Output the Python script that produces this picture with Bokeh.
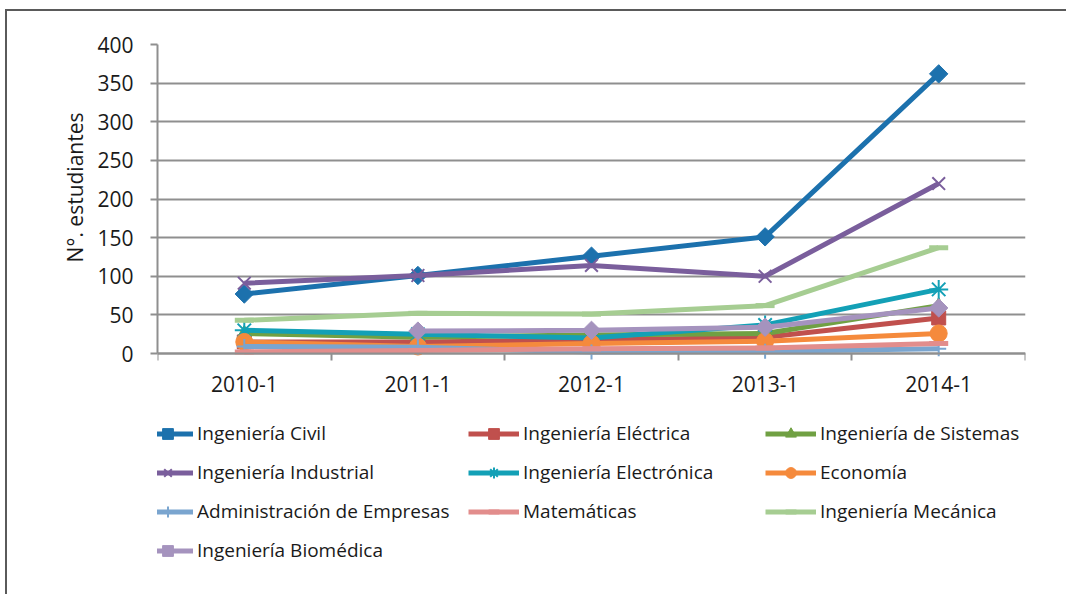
import numpy as np
from bokeh.plotting import figure
from bokeh.models import Range1d, FixedTicker, LinearAxis, Legend, LegendItem, Title
from bokeh.embed import file_html
from bokeh.resources import INLINE

# ---------------- data ----------------
categories = ["2010-1", "2011-1", "2012-1", "2013-1", "2014-1"]
civil = [77, 101, 126, 151, 362]
electrica = [15, 15, 17, 21, 46]
sistemas = [26, 21, 24, 26, 62]
industrial = [91, 101, 114, 100, 220]
electronica = [30, 25, 20, 37, 83]
economia = [15, 9, 13, 16, 26]
administracion = [9, 8, 2, 3, 6]
matematicas = [2, 4, 6, 7, 13]
mecanica = [43, 52, 51, 62, 137]
biomedica = [float("nan"), 29, 30, 34, 59]
y_ticks = [0, 50, 100, 150, 200, 250, 300, 350, 400]
y_label = "N°. estudiantes"

series_names = ["Ingeniería Civil", "Ingeniería Eléctrica", "Ingeniería de Sistemas",
                "Ingeniería Industrial", "Ingeniería Electrónica", "Economía",
                "Administración de Empresas", "Matemáticas", "Ingeniería Mecánica",
                "Ingeniería Biomédica"]
series_values = [civil, electrica, sistemas, industrial, electronica, economia,
                 administracion, matematicas, mecanica, biomedica]

# ---------------- styles ----------------
styles = {
    "Ingeniería Civil": dict(color="#1C71AD", marker="square", size=13, angle=np.pi / 4, lw=1),
    "Ingeniería Eléctrica": dict(color="#C0504D", marker="square", size=14, angle=0, lw=1),
    "Ingeniería de Sistemas": dict(color="#70A043", marker="triangle", size=14, angle=0, lw=1),
    "Ingeniería Industrial": dict(color="#7A5E9C", marker="x", size=18, angle=0, lw=2),
    "Ingeniería Electrónica": dict(color="#13A0B6", marker="asterisk", size=19, angle=0, lw=2),
    "Economía": dict(color="#F58A3C", marker="circle", size=17, angle=0, lw=1),
    "Administración de Empresas": dict(color="#7AA5CF", marker="cross", size=15, angle=0, lw=2),
    "Matemáticas": dict(color="#E28D8C", marker="dash", size=19, angle=0, lw=5),
    "Ingeniería Mecánica": dict(color="#A6CD92", marker="dash", size=19, angle=0, lw=5),
    "Ingeniería Biomédica": dict(color="#A593BE", marker="square", size=13, angle=np.pi / 4, lw=1),
}

FONT = "Open Sans"
TICK_FS = "21px"
LEG_FS = "19px"
YLAB_FS = "21px"
GRID = "#8f8f8f"
TXT = "#1a1a1a"

# layout (screen pixels)
W, H = 1061, 585
ORIGIN_X, ORIGIN_Y = 7, 11          # where the canvas starts on the page
FRAME_L, FRAME_T, FRAME_R = 157, 44, 1025
Y0_PX = 353                          # screen row of value 0
FRAME_B = ORIGIN_Y + H               # frame runs to the bottom of the canvas
y_top = 400
y_start = -y_top * (FRAME_B - Y0_PX) / (Y0_PX - FRAME_T)

x = list(range(len(categories)))

p = figure(width=W, height=H, output_backend="svg", toolbar_location=None,
           x_range=Range1d(-0.5, len(categories) - 0.5), y_range=Range1d(y_start, y_top),
           x_axis_type=None,
           min_border_left=FRAME_L - ORIGIN_X, min_border_top=FRAME_T - ORIGIN_Y,
           min_border_right=W - (FRAME_R - ORIGIN_X), min_border_bottom=0)
p.styles = {"margin-left": "5px", "margin-top": "9px",
            "border-top": "2px solid #5a5a5a", "border-left": "2px solid #5a5a5a"}
p.outline_line_color = None
p.background_fill_color = "white"
p.border_fill_color = "white"

# y axis
yax = p.yaxis[0]
yax.ticker = FixedTicker(ticks=y_ticks)
yax.bounds = (0, y_top)
yax.major_tick_out = 7
yax.major_tick_in = 0
yax.minor_tick_out = 0
yax.minor_tick_in = 0
yax.axis_line_color = GRID
yax.axis_line_width = 2
yax.major_tick_line_color = GRID
yax.major_tick_line_width = 2
yax.major_label_text_font = FONT
yax.major_label_text_font_size = TICK_FS
yax.major_label_text_color = TXT
yax.major_label_standoff = 17
p.ygrid.grid_line_color = GRID
p.ygrid.grid_line_width = 2
p.ygrid.ticker = FixedTicker(ticks=y_ticks)

# y axis title (end of text 68px below the frame top)
t = Title(text=y_label, align="right", offset=68, text_font=FONT, text_font_size=YLAB_FS,
          text_font_style="normal", text_color=TXT, standoff=12)
p.add_layout(t, "left")

# x axis: boundary ticks at value 0
bounds = [i - 0.5 for i in range(len(categories) + 1)]
ax1 = LinearAxis(ticker=FixedTicker(ticks=bounds), fixed_location=0,
                 major_label_overrides={b: "" for b in bounds},
                 major_label_text_font_size="0px",
                 major_tick_out=7, major_tick_in=0, minor_tick_out=0, minor_tick_in=0,
                 axis_line_color=GRID, axis_line_width=2,
                 major_tick_line_color=GRID, major_tick_line_width=2,
                 major_label_standoff=0)
p.add_layout(ax1, "below")
ax2 = LinearAxis(ticker=FixedTicker(ticks=x), fixed_location=0,
                 major_label_overrides={i: c for i, c in enumerate(categories)},
                 axis_line_color=None, major_tick_line_color=None, minor_tick_line_color=None,
                 major_tick_out=0, major_tick_in=0, minor_tick_out=0, minor_tick_in=0,
                 major_label_text_font=FONT, major_label_text_font_size=TICK_FS,
                 major_label_text_color=TXT, major_label_standoff=22)
p.add_layout(ax2, "below")

# series
renderers = {}
for name, vals in zip(series_names, series_values):
    st = styles[name]
    ln = p.line(x, vals, line_color=st["color"], line_width=5)
    sc = p.scatter(x, vals, marker=st["marker"], size=st["size"], angle=st["angle"],
                   fill_color=st["color"], line_color=st["color"], line_width=st["lw"])
    renderers[name] = [ln, sc]

# legends (three columns)
columns = [
    ["Ingeniería Civil", "Ingeniería Industrial", "Administración de Empresas", "Ingeniería Biomédica"],
    ["Ingeniería Eléctrica", "Ingeniería Electrónica", "Matemáticas"],
    ["Ingeniería de Sistemas", "Economía", "Ingeniería Mecánica"],
]
col_left = [142, 468, 765]
ROW1 = 433
ITEM_H, GAP = 27, 12
for names, cl in zip(columns, col_left):
    n = len(names)
    bottom_px = ROW1 - ITEM_H / 2 + n * ITEM_H + (n - 1) * GAP
    lg = Legend(items=[LegendItem(label=nm, renderers=renderers[nm]) for nm in names],
                location=(cl - FRAME_L, FRAME_B - bottom_px), orientation="vertical",
                glyph_width=51, glyph_height=ITEM_H, label_height=ITEM_H, spacing=GAP,
                label_standoff=4, padding=0, margin=0,
                border_line_color=None, background_fill_alpha=0,
                label_text_font=FONT, label_text_font_size=LEG_FS, label_text_color=TXT)
    p.add_layout(lg, "center")

open("out.html", "w").write(file_html(p, INLINE))
